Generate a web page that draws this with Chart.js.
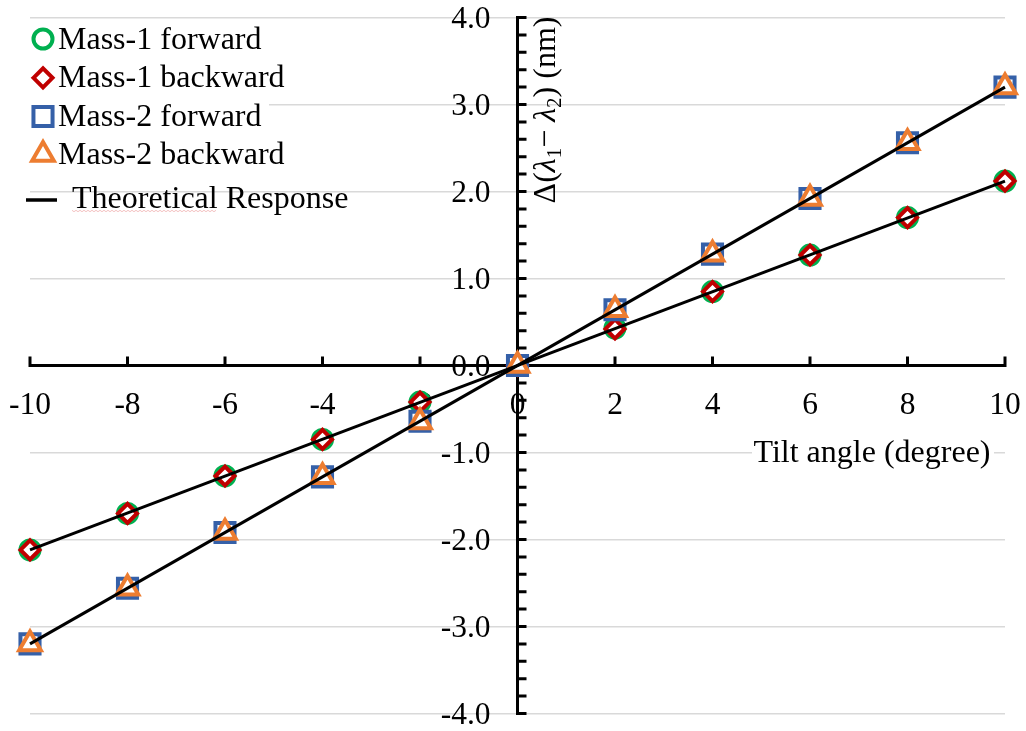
<!DOCTYPE html>
<html>
<head>
<meta charset="utf-8">
<script src="https://cdn.jsdelivr.net/npm/chart.js@4.4.1/dist/chart.umd.min.js"></script>
<style>
  html, body { margin: 0; padding: 0; background: #fff; }
  #wrap { width: 1026px; height: 731px; position: relative; }
</style>
</head>
<body>
<div id="wrap"><canvas id="tilt"></canvas></div>
<script>
// tilt angle in degrees, shift of the two peaks in nm
const tiltAngles = [-10, -8, -6, -4, -2, 0, 2, 4, 6, 8, 10];
const mass1Forward  = [-2.12, -1.70, -1.27, -0.85, -0.42, 0, 0.43, 0.85, 1.27, 1.70, 2.12];
const mass1Backward = [-2.12, -1.70, -1.27, -0.85, -0.42, 0, 0.42, 0.85, 1.27, 1.70, 2.12];
const mass2Forward  = [-3.20, -2.56, -1.92, -1.28, -0.64, 0, 0.64, 1.28, 1.92, 2.56, 3.20];
const mass2Backward = [-3.20, -2.56, -1.92, -1.28, -0.65, 0, 0.64, 1.28, 1.92, 2.56, 3.20];

// end points of the theoretical response lines
const theoryAngles = [-10, 10];
const theoryMass1 = [-2.12, 2.12];
const theoryMass2 = [-3.20, 3.20];

const xTickValues = [-10, -8, -6, -4, -2, 0, 2, 4, 6, 8, 10];
const yTickValues = [-4, -3, -2, -1, 0, 1, 2, 3, 4];
const yMinorStep = 0.2;

const SERIF = '"Liberation Serif", "Times New Roman", serif';
const GREEN = '#00B050', RED = '#C00000', BLUE = '#3560A8', ORANGE = '#ED7D31';

function pts(xs, ys) {
  return xs.map((x, i) => ({ x: x, y: ys[i] }));
}

function markerSet(label, values, style, radius, color, order) {
  return {
    label: label,
    data: pts(tiltAngles, values),
    pointStyle: style,
    pointRadius: radius,
    pointBorderWidth: 4,
    borderColor: color,
    backgroundColor: '#fff',
    showLine: false,
    clip: false,
    order: order
  };
}

const datasets = [
  { label: 'Theoretical Response', type: 'line', data: pts(theoryAngles, theoryMass2),
    borderColor: '#000', borderWidth: 3, pointRadius: 0, fill: false, clip: false, order: 0 },
  { label: 'Theoretical Response', type: 'line', data: pts(theoryAngles, theoryMass1),
    borderColor: '#000', borderWidth: 3, pointRadius: 0, fill: false, clip: false, order: 0 },
  markerSet('Mass-2 backward', mass2Backward, 'triangle', 12.5, ORANGE, 1),
  markerSet('Mass-2 forward', mass2Forward, 'rect', 13.5, BLUE, 2),
  markerSet('Mass-1 backward', mass1Backward, 'rectRot', 9.5, RED, 3),
  markerSet('Mass-1 forward', mass1Forward, 'circle', 9.5, GREEN, 4)
];

// key entries, top to bottom
const keyRows = ['Mass-1 forward', 'Mass-1 backward', 'Mass-2 forward', 'Mass-2 backward'];
const keyBaselines = [48.5, 87.3, 126, 164];

function drawYTitle(ctx) {
  const big = `32px ${SERIF}`, ital = `italic 32px ${SERIF}`, small = `21px ${SERIF}`;
  const parts = [
    { t: 'Δ(', f: big, dy: 0 },
    { t: 'λ', f: ital, dy: 0 },
    { t: '1', f: small, dy: 6 },
    { t: '− ', f: big, dy: 0 },
    { t: 'λ', f: ital, dy: 0 },
    { t: '2', f: small, dy: 6 },
    { t: ') (nm)', f: big, dy: 0 }
  ];
  let total = 0;
  parts.forEach(p => { ctx.font = p.f; p.w = ctx.measureText(p.t).width; total += p.w; });
  ctx.save();
  ctx.translate(555, 110);
  ctx.rotate(-Math.PI / 2);
  ctx.fillStyle = '#000';
  ctx.textAlign = 'left';
  ctx.textBaseline = 'alphabetic';
  let px = -total / 2;
  parts.forEach(p => { ctx.font = p.f; ctx.fillText(p.t, px, p.dy); px += p.w; });
  ctx.restore();
}

const crossAxes = {
  id: 'crossAxes',
  beforeDatasetsDraw(chart) {
    const { ctx, chartArea } = chart;
    const x = chart.scales.x, y = chart.scales.y;
    const x0 = x.getPixelForValue(0), y0 = y.getPixelForValue(0);
    ctx.save();
    // white backing behind the key and the x title
    ctx.fillStyle = '#fff';
    ctx.fillRect(27, 23, 242, 148);
    ctx.fillRect(752, 440, 242, 30);

    ctx.strokeStyle = '#000';
    ctx.lineWidth = 3;
    ctx.beginPath();
    ctx.moveTo(chartArea.left - 1.5, y0); ctx.lineTo(chartArea.right + 1.5, y0);
    ctx.moveTo(x0, chartArea.top - 1.5); ctx.lineTo(x0, chartArea.bottom + 1.5);
    x.ticks.forEach(t => {
      const px = x.getPixelForValue(t.value);
      ctx.moveTo(px, y0); ctx.lineTo(px, y0 - 9);
    });
    for (let v = y.min; v <= y.max + 1e-9; v += yMinorStep) {
      const py = y.getPixelForValue(v);
      ctx.moveTo(x0, py); ctx.lineTo(x0 + 9, py);
    }
    ctx.stroke();

    ctx.fillStyle = '#000';
    ctx.font = `31.5px ${SERIF}`;
    ctx.textBaseline = 'alphabetic';
    ctx.textAlign = 'center';
    x.ticks.forEach(t => ctx.fillText(String(t.value), x.getPixelForValue(t.value), y0 + 48.5));
    ctx.textAlign = 'right';
    y.ticks.forEach(t => ctx.fillText(t.value.toFixed(1), x0 - 27, y.getPixelForValue(t.value) + 10.5));
    ctx.restore();
  },
  afterDraw(chart) {
    const { ctx } = chart;
    ctx.save();
    ctx.textBaseline = 'alphabetic';
    ctx.textAlign = 'left';
    ctx.font = `32px ${SERIF}`;
    keyRows.forEach((name, i) => {
      const ds = chart.data.datasets.find(d => d.label === name);
      ctx.lineWidth = ds.pointBorderWidth;
      ctx.strokeStyle = ds.borderColor;
      ctx.fillStyle = '#fff';
      Chart.helpers.drawPoint(ctx, {
        pointStyle: ds.pointStyle, rotation: 0, radius: ds.pointRadius, borderWidth: ds.pointBorderWidth
      }, 43, keyBaselines[i] - 9.5);
      ctx.fillStyle = '#000';
      ctx.fillText(name, 58, keyBaselines[i]);
    });

    // theoretical response key
    ctx.strokeStyle = '#000';
    ctx.lineWidth = 3.5;
    ctx.beginPath();
    ctx.moveTo(26, 200); ctx.lineTo(57, 200);
    ctx.stroke();
    ctx.fillStyle = '#000';
    ctx.fillText('Theoretical Response', 72, 208);
    ctx.strokeStyle = 'rgba(230,120,120,0.45)';
    ctx.lineWidth = 1;
    ctx.beginPath();
    for (let sx = 72; sx <= 217; sx += 2) {
      const sy = 211 + ((sx / 2) % 2 ? 0.7 : -0.7);
      if (sx === 72) ctx.moveTo(sx, sy); else ctx.lineTo(sx, sy);
    }
    ctx.stroke();

    // axis titles
    ctx.font = `32px ${SERIF}`;
    ctx.textAlign = 'center';
    ctx.fillText('Tilt angle (degree)', 872, 462);
    drawYTitle(ctx);
    ctx.restore();
  }
};

new Chart(document.getElementById('tilt'), {
  type: 'scatter',
  data: { datasets: datasets },
  options: {
    responsive: true,
    maintainAspectRatio: false,
    animation: false,
    layout: { padding: { left: 30, right: 21, top: 17, bottom: 15 } },
    plugins: { legend: { display: false }, tooltip: { enabled: false } },
    scales: {
      x: {
        type: 'linear', min: -10, max: 10,
        afterBuildTicks: axis => { axis.ticks = xTickValues.map(v => ({ value: v })); },
        ticks: { display: false },
        grid: { display: false, drawTicks: false },
        border: { display: false }
      },
      y: {
        type: 'linear', min: -4, max: 4,
        afterBuildTicks: axis => { axis.ticks = yTickValues.map(v => ({ value: v })); },
        ticks: { display: false },
        grid: { color: '#d9d9d9', lineWidth: 1.5, drawTicks: false },
        border: { display: false }
      }
    }
  },
  plugins: [crossAxes]
});
</script>
</body>
</html>
